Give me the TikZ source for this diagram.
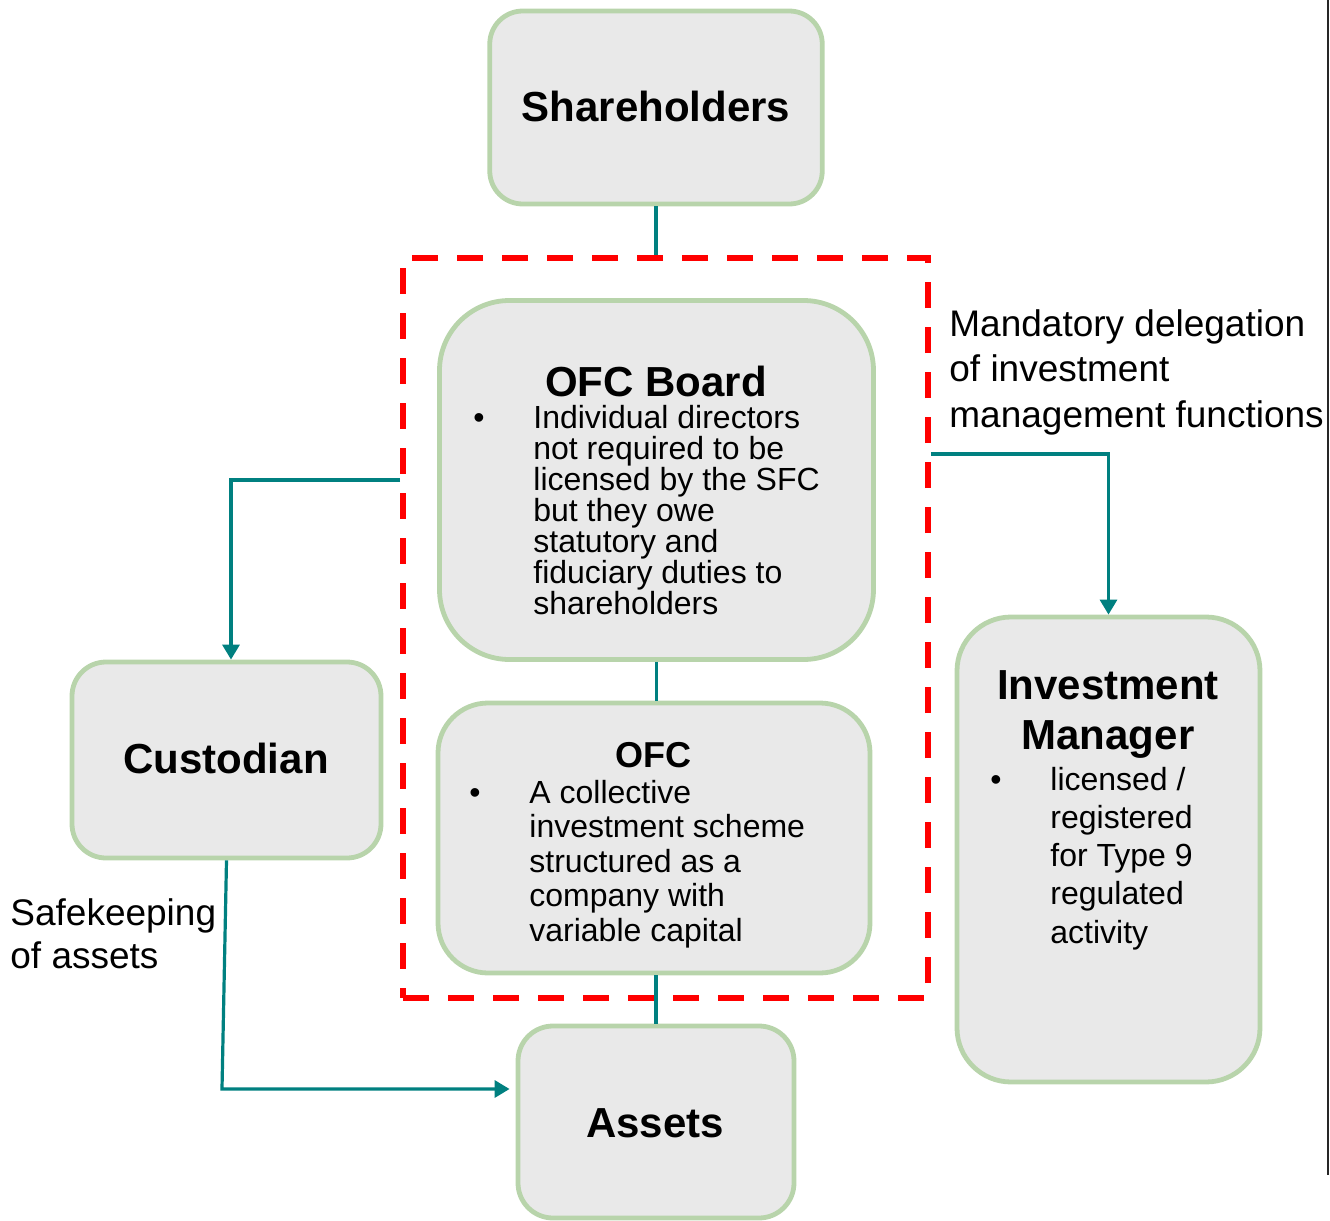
\documentclass[tikz,border=0pt]{standalone}
\usepackage{fontspec}
\setmainfont{Liberation Sans}
\usetikzlibrary{arrows.meta}
\definecolor{boxgreen}{RGB}{184,212,171}
\definecolor{boxfill}{RGB}{233,233,233}
\definecolor{connteal}{RGB}{0,128,128}
\definecolor{grpred}{RGB}{255,0,0}
\begin{document}
\begin{tikzpicture}[x=0.5pt, y=-0.5pt,
  box/.style={draw=boxgreen, fill=boxfill, line width=2.4pt, inner sep=0pt, rectangle},
  grpbox/.style={draw=grpred, line width=2.8pt, dash pattern=on 13pt off 9.5pt, inner sep=0pt, rectangle},
  title/.style={font={\fontsize{21}{25}\selectfont\bfseries}, inner sep=0pt},
  body/.style={font={\fontsize{16}{15.5}\selectfont}, inner sep=0pt, align=left},
  label/.style={inner sep=0pt, align=left},
  conn/.style={draw=connteal, line width=1.6pt},
  arr/.style={conn, -{Triangle[length=7.5pt,width=8.5pt]}}]
\useasboundingbox (0,0) rectangle (1330,1221);

% group (dashed)
\node[grpbox, minimum width=262.5pt, minimum height=370pt] (grp) at (665.5,628) {};

% boxes
\node[box, minimum width=166.25pt, minimum height=96.5pt, rounded corners=16.5pt] (sh) at (656,107.5) {};
\node[box, minimum width=217pt, minimum height=179.5pt, rounded corners=35pt] (board) at (656.5,480) {};
\node[box, minimum width=216pt, minimum height=135pt, rounded corners=25pt] (ofc) at (654,838) {};
\node[box, minimum width=154.5pt, minimum height=98pt, rounded corners=17pt] (cust) at (226.5,760) {};
\node[box, minimum width=138pt, minimum height=96pt, rounded corners=17.5pt] (assets) at (656,1122) {};
\node[box, minimum width=151.5pt, minimum height=232.5pt, rounded corners=27pt] (im) at (1108.5,849.5) {};

% texts (multi-line nodes anchored at the baseline of their last line)
\node[title, anchor=base] (tsh) at (656,121) {Shareholders};
\node[title, anchor=base] (tboard) at (656,396) {OFC Board};
\node[body, anchor=base] (bboard) at (479,428) {\textbullet};
\node[body, anchor=base west] (xboard) at (533,614) {Individual directors\\not required to be\\licensed by the SFC\\but they owe\\statutory and\\fiduciary duties to\\shareholders};
\node[inner sep=0pt, font={\fontsize{18}{22}\selectfont\bfseries}, anchor=base] (tofc) at (653,767) {OFC};
\node[body, anchor=base] (bofc) at (475,803) {\textbullet};
\node[body, font={\fontsize{16}{17.3}\selectfont}, anchor=base west] (xofc) at (529,941.4) {A collective\\investment scheme\\structured as a\\company with\\variable capital};
\node[title, anchor=base] (tcust) at (226,773) {Custodian};
\node[title, anchor=base] (tassets) at (655,1137) {Assets};
\node[title, align=center, anchor=base] (tim) at (1108,749) {Investment\\Manager};
\node[body, anchor=base] (bim) at (996,790) {\textbullet};
\node[body, font={\fontsize{16}{19.15}\selectfont}, anchor=base west] (xim) at (1050,943.2) {licensed /\\registered\\for Type 9\\regulated\\activity};
\node[label, font={\fontsize{18.5}{22.75}\selectfont}, anchor=base west] (lmand) at (949,427) {Mandatory delegation\\of investment\\management functions};
\node[label, font={\fontsize{18.5}{21.75}\selectfont}, anchor=base west] (lsafe) at (10,968.5) {Safekeeping\\of assets};

% connectors
\draw[conn] (sh.south) -- (sh.south |- grp.north);
\draw[conn] (board.south) -- (board.south |- ofc.north);
\draw[conn] (ofc.south -| assets.north) -- (assets.north);
\draw[arr] (grp.west |- board.center) -| ([xshift=2.25pt]cust.north);
\coordinate (imy) at (0,454);
\draw[arr] (grp.east |- imy) -| (im.north);
\coordinate (bend) at (222,1089);
\draw[arr, shorten >=3pt] (cust.south) -- (bend) -- (bend -| assets.west);

% right edge rule
\draw[line width=1pt, black!85] (1328,0) -- (1328,1175);
\end{tikzpicture}
\end{document}
